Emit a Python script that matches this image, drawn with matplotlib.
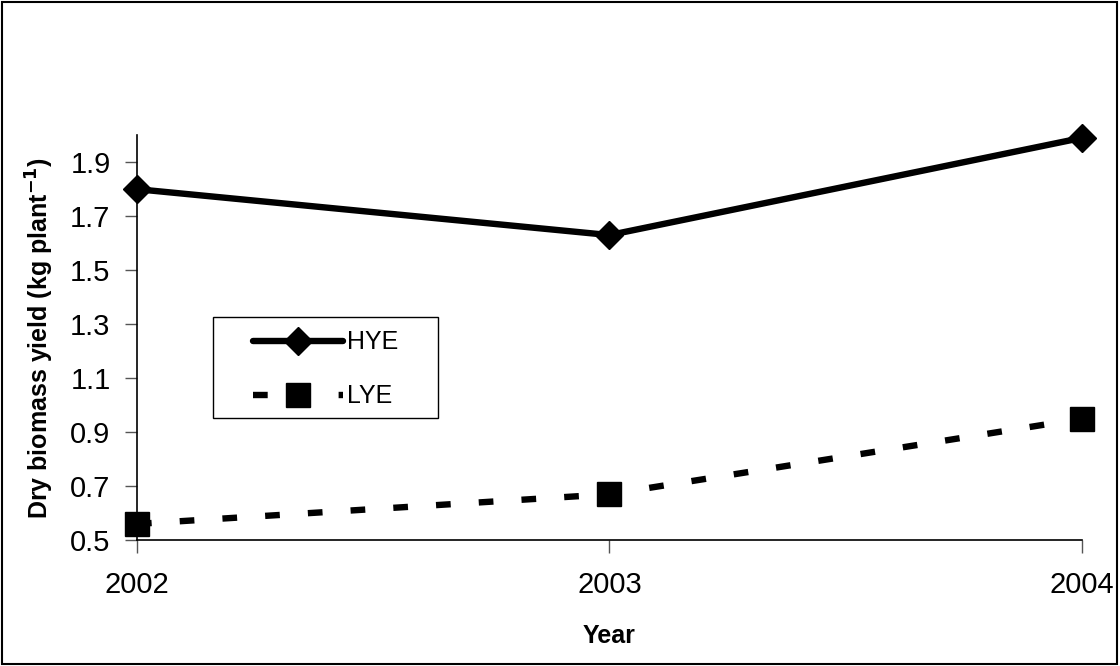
import matplotlib.pyplot as plt
from matplotlib.patches import Rectangle

years = [2002, 2003, 2004]
hye = [1.80, 1.63, 1.99]
lye = [0.56, 0.67, 0.95]
yticks = [0.5, 0.7, 0.9, 1.1, 1.3, 1.5, 1.7, 1.9]

plt.rcParams['font.family'] = ['Liberation Sans', 'DejaVu Sans']

fig = plt.figure(figsize=(11.2, 6.66), dpi=100)
ax = fig.add_axes([0.1223, 0.189, 0.8437, 0.608])

ax.plot(years, hye, color='black', linewidth=4.6, marker='D', markersize=14,
        label='HYE', clip_on=False, solid_capstyle='round')
ax.plot(years, lye, color='black', linewidth=4.6, marker='s', markersize=17,
        dashes=(2.3, 4.4), label='LYE', clip_on=False, dash_capstyle='butt')

ax.set_xlim(2002, 2004)
ax.set_ylim(0.5, 2.0)
ax.set_xticks(years)
ax.set_xticklabels([str(y) for y in years])
ax.set_yticks(yticks)
ax.set_yticklabels(['%.1f' % v for v in yticks])
ax.tick_params(direction='out', labelsize=21, length=9, width=1, color='#555555')
ax.tick_params(axis='x', pad=13)
ax.tick_params(axis='y', pad=10)

for s in ['top', 'right']:
    ax.spines[s].set_visible(False)
for s in ['left', 'bottom']:
    ax.spines[s].set_linewidth(1.2)

ax.set_xlabel('Year', fontsize=18, fontweight='bold', labelpad=18)
ax.set_ylabel('Dry biomass yield (kg plant$^{\\mathbf{-1}}$)', fontsize=18,
              fontweight='bold', labelpad=10)

# legend box drawn separately so the padding can match the original
ax.add_patch(Rectangle((0.0804, 0.301), 0.238, 0.249, transform=ax.transAxes,
                       fill=False, edgecolor='black', linewidth=1.0, zorder=5))
leg = ax.legend(loc='upper left', bbox_to_anchor=(0.1228, 0.518), fontsize=18,
                frameon=False, handlelength=3.6, handletextpad=0.15,
                borderpad=0, labelspacing=1.2, borderaxespad=0)

fig.patches.append(Rectangle((0.002, 0.003), 0.995, 0.994, transform=fig.transFigure,
                             fill=False, edgecolor='black', linewidth=1.5))

fig.savefig('out.png', dpi=100)
